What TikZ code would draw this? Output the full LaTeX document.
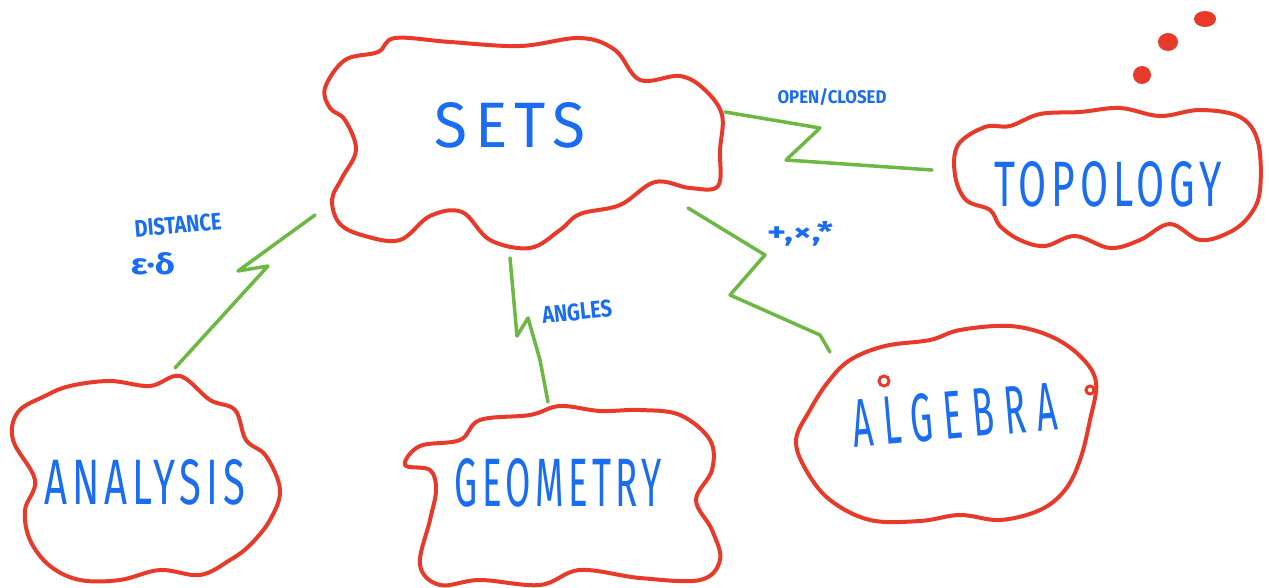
\documentclass[tikz,border=0pt]{standalone}
\usepackage{fontspec}
\usepackage{graphicx}
\setmainfont{Fira Sans}
\newfontfamily\wide[LetterSpace=12]{Fira Sans}
\newfontfamily\wider[LetterSpace=30]{Fira Sans}
\definecolor{cred}{HTML}{E83A2A}
\definecolor{cgreen}{HTML}{6CB842}
\definecolor{cblue}{HTML}{1A6DF0}
\tikzset{
  cloud/.style={draw=cred, line width=4pt, line join=round},
  link/.style={draw=cgreen, line width=3.5pt, line cap=round, line join=round},
  lbl/.style={text=cblue, inner sep=0pt, font=\wide},
  slbl/.style={text=cblue, inner sep=0pt, font=\bfseries},
  blob/.style={fill=cred, draw=none}
}
\begin{document}
\begin{tikzpicture}[x=1pt,y=-1pt]
\useasboundingbox (0,0) rectangle (1269,588);
% clouds
\draw[cloud] plot[smooth cycle, tension=0.6] coordinates {(325,88) (345,60) (378,52) (395,38) (450,42) (520,46) (580,38) (615,50) (640,80) (680,76) (705,90) (722,115) (720,150) (718,186) (690,188) (655,182) (620,205) (580,214) (560,230) (530,248) (490,240) (462,212) (430,216) (400,240) (365,236) (340,224) (332,200) (342,178) (356,150) (345,120) (330,108)};
\draw[cloud] plot[smooth cycle, tension=0.6] coordinates {(958,145) (985,127) (1010,126) (1040,114) (1080,112) (1120,108) (1160,116) (1200,110) (1240,117) (1258,142) (1260,190) (1250,215) (1230,232) (1200,240) (1170,224) (1140,240) (1110,248) (1075,236) (1045,246) (1020,240) (1000,226) (990,210) (966,200) (955,175)};
\draw[cloud] plot[smooth cycle, tension=0.6] coordinates {(18,412) (45,396) (70,386) (110,381) (150,386) (180,376) (210,400) (235,410) (246,440) (266,456) (280,490) (270,520) (250,545) (230,560) (200,575) (160,570) (120,580) (80,580) (50,566) (30,540) (25,510) (35,480) (13,440)};
\draw[cloud] plot[smooth cycle, tension=0.6] coordinates {(405,465) (420,446) (460,440) (480,420) (530,415) (560,406) (600,411) (640,410) (680,415) (710,440) (712,470) (696,500) (712,530) (720,560) (700,580) (640,578) (580,570) (540,585) (480,580) (440,585) (420,565) (430,520) (436,490) (430,470)};
\draw[cloud] plot[smooth cycle, tension=0.6] coordinates {(828,382) (850,360) (885,346) (930,340) (960,330) (1010,326) (1050,336) (1080,356) (1096,382) (1090,420) (1080,460) (1065,490) (1040,510) (1000,520) (960,515) (920,521) (870,520) (830,500) (806,470) (796,440) (810,410)};
\draw[cred, line width=3pt] (884,381) circle (5);
\draw[cred, line width=3pt] (1090,390) circle (4);
% thought bubbles
\fill[blob] (1142,75) ellipse (9 and 9);
\fill[blob] (1168,42) ellipse (10 and 9);
\fill[blob] (1205,19) ellipse (11 and 8);
% text nodes
\node[lbl] (sets) at (510,125) {\resizebox{150pt}{45pt}{SETS}};
\node[lbl] (topology) at (1108,184) {\resizebox{227pt}{45pt}{TOPOLOGY}};
\node[lbl] (analysis) at (145,482) {\resizebox{200pt}{45pt}{ANALYSIS}};
\node[lbl] (geometry) at (558,483) {\resizebox{207pt}{48pt}{GEOMETRY}};
\node[lbl, font=\wider, rotate=5] (algebra) at (955,415) {\resizebox{205pt}{48pt}{ALGEBRA}};
\node[slbl, rotate=5] (distance) at (178,225) {\resizebox{87pt}{17pt}{DISTANCE}};
\node[slbl] (epsdelta) at (153,264) {\resizebox{44pt}{22pt}{ε·δ}};
\node[slbl] (openclosed) at (832,97) {\resizebox{109pt}{15pt}{OPEN/CLOSED}};
\node[slbl] (ops) at (800,234) {\resizebox{66pt}{20pt}{+,×,*}};
\node[slbl, rotate=6] (angles) at (577,312) {\resizebox{70pt}{17pt}{ANGLES}};
% connector end points
\coordinate (sA) at (315,215);
\coordinate (aS) at (175,368);
\coordinate (sG) at (510,258);
\coordinate (gS) at (548,402);
\coordinate (sL) at (688,208);
\coordinate (lS) at (830,352);
\coordinate (sT) at (725,112);
\coordinate (tS) at (932,170);
% connectors
\draw[link] (aS) -- (268,266) -- (238,271) -- (sA);
\draw[link] (sG) -- (517,336) -- (528,318) -- (540,360) -- (gS);
\draw[link] (sL) -- (765,255) -- (730,295) -- (820,335) -- (lS);
\draw[link] (sT) -- (820,128) -- (786,160) -- (tS);
\end{tikzpicture}
\end{document}
